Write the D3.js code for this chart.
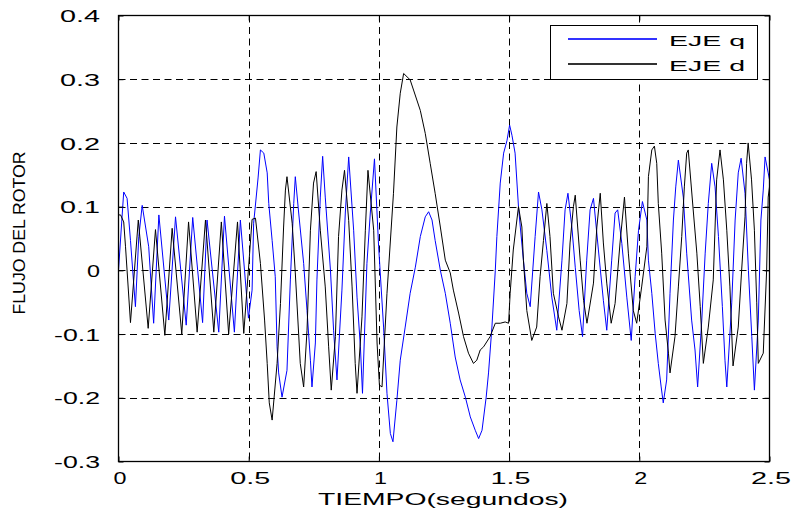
<!DOCTYPE html>
<html>
<head>
<meta charset="utf-8">
<script src="https://cdn.jsdelivr.net/npm/d3@7"></script>
<style>
  body { margin: 0; background: #fff; }
  text { font-family: "Liberation Sans", Arial, Helvetica, sans-serif; fill: #000; }
</style>
</head>
<body>
<svg id="chart" width="794" height="515"></svg>
<script>
// Rotor flux, q axis (seconds, flux)
const timeQ = [0.000,0.020,0.033,0.046,0.065,0.078,0.091,0.116,0.135,0.155,0.193,0.219,0.260,0.285,0.323,0.340,0.385,0.407,0.445,0.468,0.499,
  0.513,0.519,0.536,0.545,0.558,0.571,0.577,0.590,0.602,0.609,0.615,0.628,0.647,0.660,0.673,0.679,0.692,0.711,0.724,0.737,0.743,0.756,0.762,
  0.775,0.784,0.794,0.814,0.826,0.839,0.858,0.871,0.884,0.903,0.916,0.929,0.937,0.954,0.967,0.983,0.999,
  1.018,1.031,1.044,1.054,1.069,1.082,1.101,1.120,1.140,1.159,1.178,1.191,1.204,1.216,1.236,1.255,1.274,1.293,1.312,1.332,1.351,1.370,
  1.383,1.396,1.412,1.421,1.434,1.447,1.453,1.466,1.479,1.492,1.502,1.511,1.523,1.536,1.543,1.555,1.568,1.581,1.600,1.613,1.626,1.645,
  1.664,1.683,1.703,1.715,1.726,1.741,1.754,1.769,1.782,1.798,1.811,1.824,1.843,1.862,1.875,1.894,1.907,1.917,1.933,1.952,1.969,1.984,
  1.997,2.012,2.029,2.035,2.048,2.061,2.073,2.084,2.092,2.105,2.118,2.131,2.140,2.150,2.169,2.182,2.201,2.214,2.224,2.240,2.253,2.265,
  2.278,2.291,2.304,2.319,2.329,2.336,2.355,2.368,2.380,2.391,2.406,2.419,2.432,2.442,2.457,2.467,2.476,2.483,2.495,2.500];
const fluxQ = [0.000,0.123,0.113,0.047,-0.057,0.053,0.102,0.037,-0.083,0.087,-0.078,0.084,-0.086,0.083,-0.082,0.079,-0.097,0.085,-0.097,0.079,-0.075,
  -0.031,0.074,0.145,0.189,0.184,0.153,0.105,0.047,-0.010,-0.120,-0.161,-0.199,-0.157,-0.015,0.105,0.147,0.090,0.011,-0.063,-0.141,-0.183,-0.114,-0.015,
  0.115,0.179,0.115,0.000,-0.094,-0.172,-0.031,0.090,0.178,0.063,-0.042,-0.120,-0.193,0.011,0.090,0.175,0.037,
  -0.089,-0.193,-0.256,-0.269,-0.204,-0.141,-0.089,-0.036,0.005,0.053,0.084,0.092,0.079,0.047,0.000,-0.036,-0.083,-0.136,-0.172,-0.199,-0.230,-0.251,
  -0.264,-0.251,-0.199,-0.161,-0.089,0.000,0.053,0.137,0.184,0.204,0.228,0.212,0.184,0.100,0.068,0.016,-0.036,-0.057,0.053,0.123,0.095,0.031,
  -0.042,-0.094,0.016,0.095,0.121,0.068,0.005,-0.063,-0.104,0.016,0.095,0.113,0.032,-0.047,-0.094,0.016,0.090,0.095,0.042,-0.042,-0.110,-0.010,
  0.063,0.108,0.079,0.016,-0.036,-0.099,-0.146,-0.183,-0.208,-0.172,-0.036,0.079,0.131,0.173,0.115,0.027,-0.078,-0.125,-0.183,-0.078,0.027,0.105,
  0.168,0.131,0.053,-0.057,-0.141,-0.183,-0.051,0.079,0.153,0.176,0.121,0.000,-0.104,-0.188,-0.078,0.079,0.126,0.178,0.153,0.142];

// Rotor flux, d axis (seconds, flux)
const timeD = [0.000,0.008,0.020,0.027,0.046,0.076,0.114,0.142,0.178,0.206,0.243,0.269,0.302,0.334,0.366,0.395,0.423,0.457,0.481,
  0.513,0.526,0.545,0.561,0.571,0.579,0.590,0.609,0.622,0.634,0.641,0.647,0.667,0.679,0.698,0.711,0.724,0.737,0.749,0.759,0.775,0.794,
  0.807,0.817,0.833,0.845,0.858,0.868,0.884,0.897,0.909,0.916,0.935,0.948,0.958,0.980,0.993,1.002,1.012,1.031,1.056,1.069,1.082,1.095,
  1.120,1.133,1.159,1.178,1.197,1.216,1.236,1.255,1.274,1.286,1.306,1.325,1.344,1.363,1.376,1.389,1.402,1.427,1.447,1.466,1.485,1.498,
  1.504,1.516,1.536,1.549,1.555,1.568,1.587,1.606,1.619,1.632,1.645,1.657,1.670,1.690,1.703,1.722,1.734,1.747,1.754,1.773,1.786,1.799,
  1.824,1.837,1.850,1.862,1.875,1.892,1.907,1.926,1.943,1.958,1.977,1.990,2.009,2.029,2.035,2.048,2.058,2.067,2.073,2.086,2.099,2.112,
  2.118,2.137,2.150,2.163,2.173,2.182,2.188,2.208,2.221,2.234,2.246,2.265,2.284,2.291,2.297,2.310,2.323,2.336,2.348,2.360,2.380,2.393,
  2.406,2.412,2.418,2.431,2.442,2.451,2.457,2.476,2.489,2.495,2.500];
const fluxD = [0.087,0.087,0.076,0.037,-0.082,0.079,-0.091,0.064,-0.102,0.066,-0.100,0.076,-0.097,0.079,-0.097,0.076,-0.100,0.076,-0.099,
  0.080,0.082,0.011,-0.078,-0.146,-0.208,-0.235,-0.146,-0.052,0.068,0.126,0.147,0.074,-0.004,-0.146,-0.183,-0.094,0.063,0.137,0.155,0.063,-0.026,
  -0.120,-0.188,-0.104,0.053,0.126,0.157,0.078,-0.026,-0.146,-0.193,-0.073,0.063,0.157,0.063,-0.114,-0.180,-0.183,-0.036,0.121,0.225,0.278,0.309,
  0.299,0.283,0.251,0.215,0.168,0.121,0.068,0.016,-0.004,-0.031,-0.067,-0.104,-0.130,-0.146,-0.141,-0.125,-0.120,-0.104,-0.083,-0.083,-0.081,-0.083,
  -0.036,0.032,0.100,0.068,0.016,-0.063,-0.110,-0.089,-0.010,0.047,0.105,0.053,-0.036,-0.073,-0.094,-0.052,0.043,0.100,0.118,0.016,-0.047,-0.083,
  -0.020,0.068,0.121,0.043,-0.020,-0.083,-0.052,0.043,0.115,0.027,-0.063,-0.083,-0.026,0.037,0.147,0.189,0.195,0.168,0.105,0.027,-0.078,-0.130,
  -0.161,-0.104,-0.026,0.053,0.131,0.184,0.189,0.090,0.027,-0.057,-0.146,-0.089,-0.015,0.068,0.142,0.189,0.142,0.063,-0.026,-0.150,-0.089,0.000,
  0.084,0.168,0.200,0.142,0.063,-0.051,-0.146,-0.130,0.000,0.115,0.131];

const xTicks = [0, 0.5, 1, 1.5, 2, 2.5];
const xTickLabels = ["0", "0.5", "1", "1.5", "2", "2.5"];
const yTicks = [-0.3, -0.2, -0.1, 0, 0.1, 0.2, 0.3, 0.4];
const yTickLabels = ["-0.3", "-0.2", "-0.1", "0", "0.1", "0.2", "0.3", "0.4"];
const seriesNames = ["EJE q", "EJE d"];
const seriesColors = ["#0000ff", "#000000"];
const xTitle = "TIEMPO(segundos)";
const yTitle = "FLUJO DEL ROTOR";

const svg = d3.select("#chart");
const L = 118.5, R = 769.5, T = 15.5, B = 461.5;

const x = d3.scaleLinear().domain([0, 2.5]).range([L, R]);
const y = d3.scaleLinear().domain([-0.3, 0.4]).range([B, T]);

svg.append("rect").attr("width", 794).attr("height", 515).attr("fill", "#fff");

// dashed grid
const grid = svg.append("g").attr("stroke", "#000").attr("stroke-width", 1).attr("stroke-dasharray", "7,4.5");
grid.selectAll(null).data(xTicks.slice(1, -1)).join("line")
  .attr("x1", d => Math.round(x(d)) + 0.5).attr("x2", d => Math.round(x(d)) + 0.5)
  .attr("y1", T).attr("y2", B);
grid.selectAll(null).data(yTicks.slice(1, -1)).join("line")
  .attr("y1", d => Math.round(y(d)) + 0.5).attr("y2", d => Math.round(y(d)) + 0.5)
  .attr("x1", L).attr("x2", R);

// data lines
svg.append("clipPath").attr("id", "plotClip").append("rect")
  .attr("x", L).attr("y", T).attr("width", R - L).attr("height", B - T);
const fluxLine = d3.line().x(d => x(d[0])).y(d => y(d[1]));
const seriesData = [d3.zip(timeQ, fluxQ), d3.zip(timeD, fluxD)];
svg.append("g").attr("clip-path", "url(#plotClip)")
  .selectAll("path").data(seriesData).join("path")
  .attr("d", fluxLine).attr("fill", "none")
  .style("stroke", (d, i) => seriesColors[i]).attr("stroke-width", 1);

// axes with inward ticks
const tickFont = 17;
const xAxis = svg.append("g").attr("transform", `translate(0,${B})`)
  .call(d3.axisBottom(x).tickValues(xTicks).tickFormat((d, i) => xTickLabels[i])
    .tickSizeInner(-5).tickSizeOuter(0).tickPadding(10));
const yAxis = svg.append("g").attr("transform", `translate(${L},0)`)
  .call(d3.axisLeft(y).tickValues(yTicks).tickFormat((d, i) => yTickLabels[i])
    .tickSizeInner(-5).tickSizeOuter(0).tickPadding(18.5));
svg.append("g").attr("transform", `translate(0,${T})`)
  .call(d3.axisTop(x).tickValues(xTicks).tickFormat("").tickSizeInner(-5).tickSizeOuter(0));
svg.append("g").attr("transform", `translate(${R},0)`)
  .call(d3.axisRight(y).tickValues(yTicks).tickFormat("").tickSizeInner(-5).tickSizeOuter(0));

svg.selectAll(".domain").remove();
svg.selectAll(".tick line").attr("stroke", "#000");
svg.selectAll(".tick text").attr("font-size", tickFont).attr("font-family", null).attr("fill", "#000")
  .attr("lengthAdjust", "spacingAndGlyphs")
  .attr("textLength", function() { const s = this.textContent; return s.length === 1 ? 13 : (s.length === 3 ? 40 : 46); });
yAxis.selectAll(".tick text").attr("dy", "0.36em");
xAxis.selectAll(".tick text").attr("dx", 1);

// frame
svg.append("rect").attr("x", L).attr("y", T).attr("width", R - L).attr("height", B - T)
  .attr("fill", "none").attr("stroke", "#000").attr("stroke-width", 1.3);

// titles
svg.append("text").attr("x", 443).attr("y", 505).attr("text-anchor", "middle")
  .attr("font-size", 17).attr("textLength", 250).attr("lengthAdjust", "spacingAndGlyphs").text(xTitle);
svg.append("text").attr("transform", "translate(25,233) rotate(-90)").attr("text-anchor", "middle")
  .attr("font-size", 17).attr("textLength", 163).attr("lengthAdjust", "spacingAndGlyphs").text(yTitle);

// legend
const lg = svg.append("g");
lg.append("rect").attr("x", 550.5).attr("y", 25.5).attr("width", 207).attr("height", 54)
  .attr("fill", "#fff").attr("stroke", "#000").attr("stroke-width", 1);
seriesNames.forEach((name, i) => {
  const yy = 39 + i * 25;
  lg.append("rect").attr("x", 568).attr("y", yy - 0.8).attr("width", 89).attr("height", 1.6)
    .style("fill", seriesColors[i]);
  lg.append("text").attr("x", 669).attr("y", yy + 6.5).attr("font-size", 15.5)
    .attr("textLength", 76).attr("lengthAdjust", "spacingAndGlyphs").text(name);
});
</script>
</body>
</html>
